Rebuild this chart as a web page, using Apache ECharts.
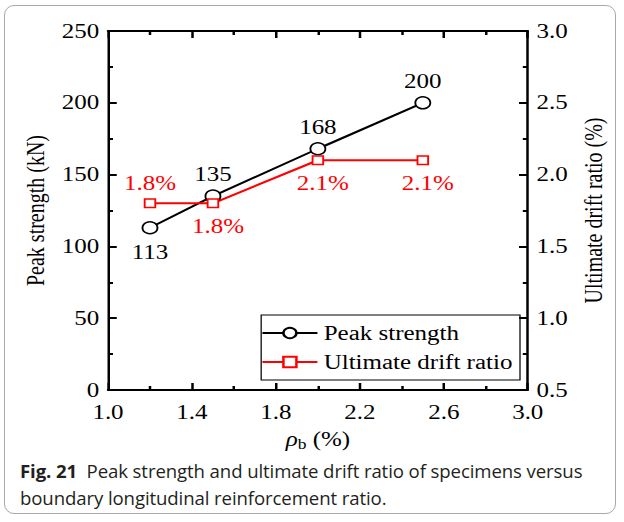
<!DOCTYPE html>
<html><head><meta charset="utf-8">
<script src="https://cdn.jsdelivr.net/npm/echarts@6/dist/echarts.min.js"></script>
<style>
html,body{margin:0;padding:0;background:#fff}
#wrap{position:relative;width:624px;height:522px;overflow:hidden}
#frame{position:absolute;left:4px;top:5px;width:612px;height:509px;border:1px solid #a8a8a8;border-radius:10px;box-sizing:border-box}
#c{position:absolute;left:0;top:0;width:499.2px;height:470px;transform:scaleX(1.25);transform-origin:0 0}
#cap{position:absolute;left:20px;top:457px;font-family:"Open Sans","Noto Sans",sans-serif;font-size:18.6px;line-height:27px;color:#231f20;letter-spacing:-0.1px}
#cap b{font-weight:700}
</style>
</head><body><div id="wrap"><div id="frame"></div><div id="c"></div>
<div id="cap"><b>Fig. 21</b>&nbsp; Peak strength and ultimate drift ratio of specimens versus<br>boundary longitudinal reinforcement ratio.</div></div>
<script>
const rho = [1.2, 1.5, 2.0, 2.5];
const peakStrength = [113, 135, 168, 200];
const driftRatio = [1.8, 1.8, 2.1, 2.1];
const peakLabelPos = ['bottom', 'top', 'top', 'top'];
const driftLabelPos = ['top', 'bottom', 'bottom', 'bottom'];

const serif = 'Liberation Serif';
const FS = 20;
const chart = echarts.init(document.getElementById('c'), null, {renderer: 'svg'});
const axisCommon = {
  axisLine: {show: true, lineStyle: {color: '#000', width: 2}},
  axisTick: {show: true, inside: true, length: 7, lineStyle: {color: '#000', width: 2}},
  minorTick: {show: true, splitNumber: 2, length: 4, lineStyle: {color: '#000', width: 2}},
  splitLine: {show: false}
};
const labelFor = pos => pos === 'bottom' ? {position: 'bottom', distance: 8} : {position: 'top', distance: 5};
chart.setOption({
  animation: false,
  grid: {left: 86.4, right: 76.8, top: 31, bottom: 80, containLabel: false, outerBoundsMode: 'none'},
  legend: {
    right: 83, top: 315, orient: 'vertical', itemGap: 9, itemWidth: 44, itemHeight: 13,
    borderColor: '#000', borderWidth: 1, padding: [8, 6, 8, 0],
    textStyle: {fontFamily: serif, fontSize: FS, color: '#000'},
    data: ['Peak strength', 'Ultimate drift ratio']
  },
  xAxis: [
    Object.assign({}, axisCommon, {
      type: 'value', min: 1.0, max: 3.0, interval: 0.4,
      name: '{i|ρ}{s|b} (%)', nameLocation: 'middle', nameGap: 37,
      nameTextStyle: {fontFamily: serif, fontSize: FS, color: '#000',
        rich: {i: {fontFamily: serif, fontStyle: 'italic', fontSize: FS}, s: {fontFamily: serif, fontSize: 14, verticalAlign: 'bottom', padding: [10,0,0,0]}}},
      axisLabel: {color: '#000', fontFamily: serif, fontSize: FS, margin: 12, formatter: v => v.toFixed(1)}
    }),
    Object.assign({}, axisCommon, {
      type: 'value', min: 1.0, max: 3.0, interval: 0.4, position: 'top',
      axisLabel: {show: false}
    })
  ],
  yAxis: [
    Object.assign({}, axisCommon, {
      type: 'value', min: 0, max: 250, interval: 50,
      name: 'Peak strength (kN)', nameLocation: 'middle', nameGap: 42,
      nameTextStyle: {fontFamily: serif, fontSize: FS, color: '#000'},
      axisLabel: {color: '#000', fontFamily: serif, fontSize: FS, margin: 7}
    }),
    Object.assign({}, axisCommon, {
      type: 'value', min: 0.5, max: 3.0, interval: 0.5, position: 'right',
      name: 'Ultimate drift ratio (%)', nameLocation: 'middle', nameGap: 42, nameRotate: 90,
      nameTextStyle: {fontFamily: serif, fontSize: FS, color: '#000'},
      axisLabel: {color: '#000', fontFamily: serif, fontSize: FS, margin: 7, formatter: v => v.toFixed(1)}
    })
  ],
  series: [
    {
      name: 'Peak strength', type: 'line', xAxisIndex: 0, yAxisIndex: 0,
      data: rho.map((x, i) => ({value: [x, peakStrength[i]], label: labelFor(peakLabelPos[i])})),
      symbol: 'circle', symbolSize: 12,
      lineStyle: {color: '#000', width: 2},
      itemStyle: {color: '#fff', borderColor: '#000', borderWidth: 1.5},
      label: {show: true, fontFamily: serif, fontSize: FS, color: '#000', formatter: p => p.value[1]}
    },
    {
      name: 'Ultimate drift ratio', type: 'line', xAxisIndex: 0, yAxisIndex: 1,
      data: rho.map((x, i) => ({value: [x, driftRatio[i]],
        label: Object.assign(labelFor(driftLabelPos[i]), driftLabelPos[i] === 'bottom' ? {offset: [4, 0]} : {})})),
      symbol: 'rect', symbolSize: 8.5,
      lineStyle: {color: '#f00', width: 2},
      itemStyle: {color: '#fff', borderColor: '#f00', borderWidth: 1.5},
      label: {show: true, fontFamily: serif, fontSize: FS, color: '#f00', formatter: p => p.value[1].toFixed(1) + '%'}
    }
  ]
});
</script></body></html>
